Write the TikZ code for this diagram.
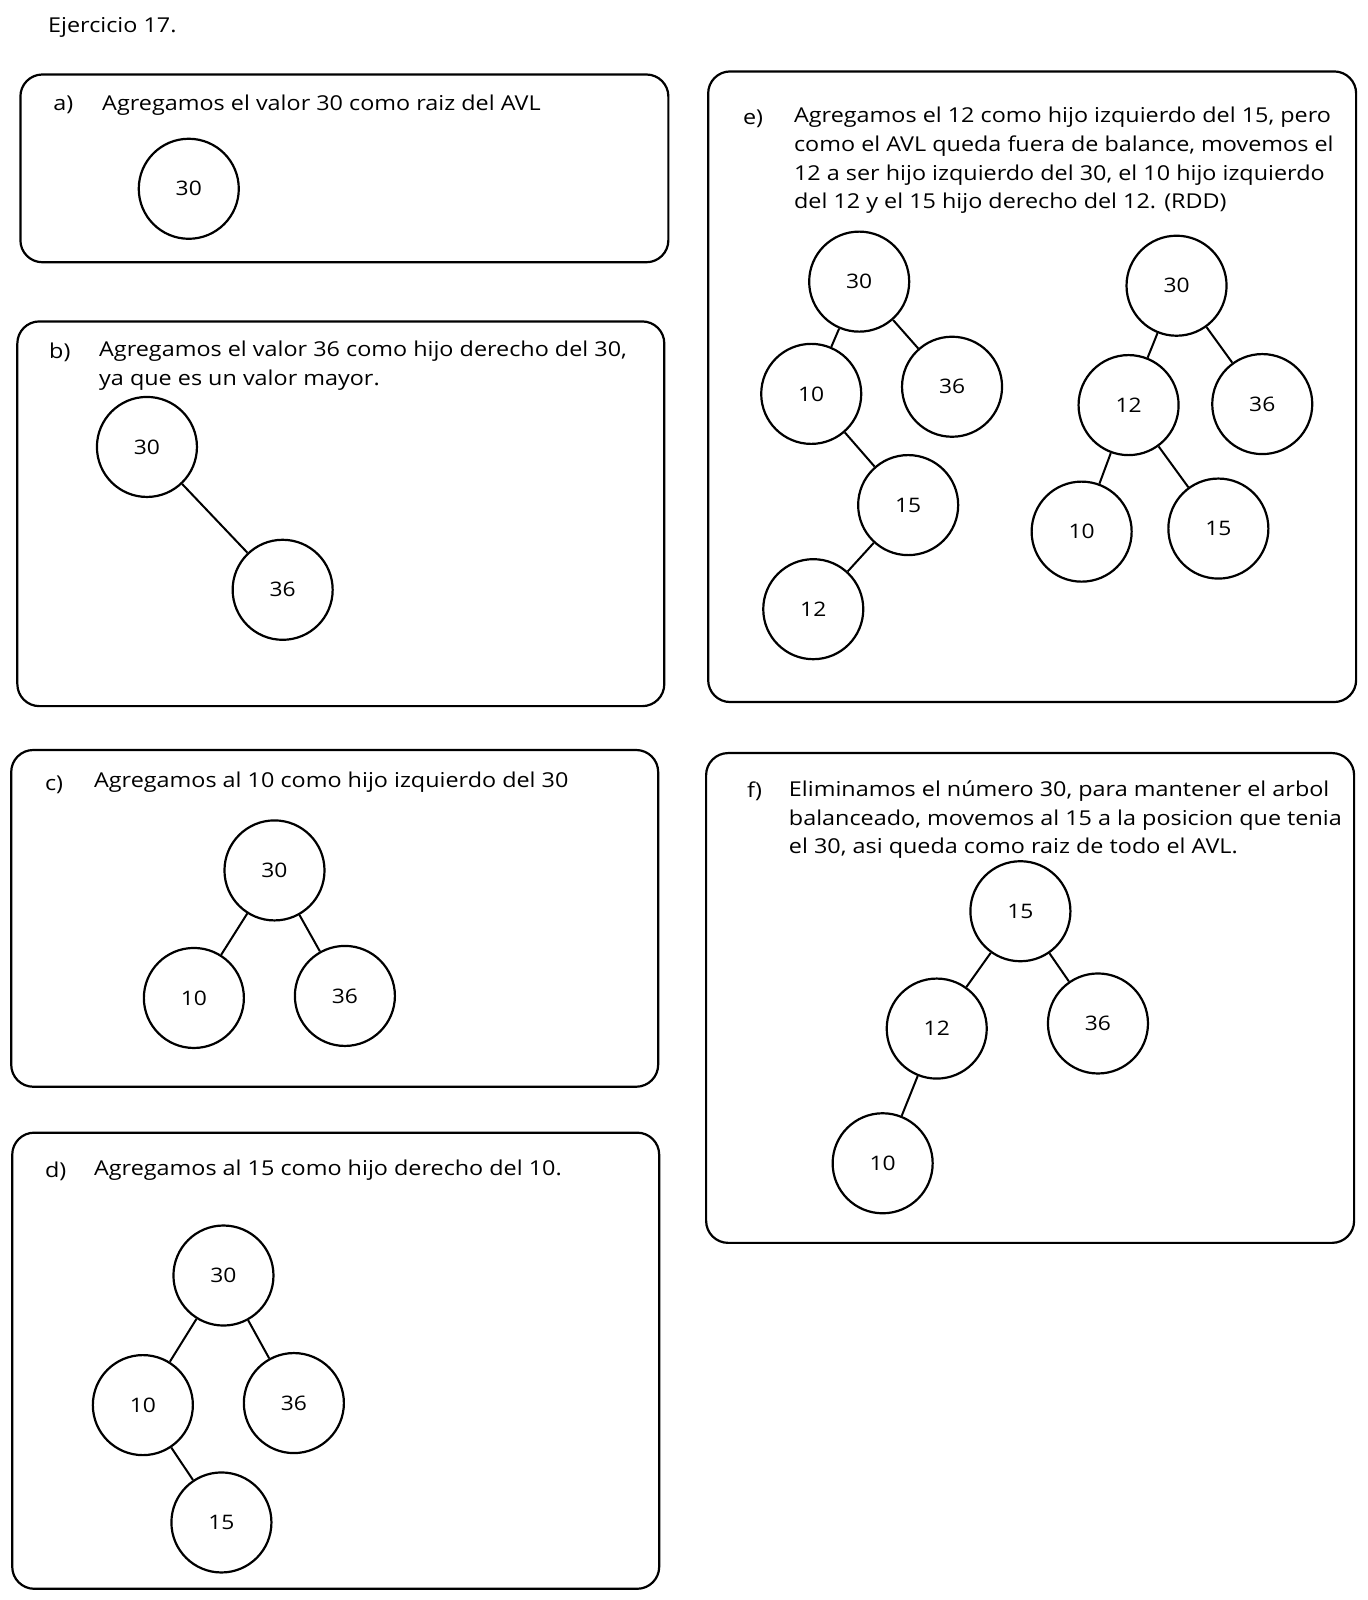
\documentclass[tikz,border=0pt]{standalone}
\usepackage{fontspec}
\setmainfont[FakeStretch=1.14]{Open Sans}
\begin{document}
\begin{tikzpicture}[x=1.0201pt,y=-1.0201pt,
  box/.style={draw=black,line width=2.2pt,rounded corners=22pt},
  nd/.style={circle,draw=black,line width=2.2pt,minimum size=100pt,inner sep=0pt,font=\fontsize{20}{24}\selectfont},
  txt/.style={anchor=west,inner sep=0pt,font=\fontsize{20.5}{28.6}\selectfont},
  ptxt/.style={anchor=north west,inner sep=0pt,align=left,font=\fontsize{20.5}{28.6}\selectfont},
  edge/.style={line width=2pt}]
\useasboundingbox (0,0) rectangle (1340,1568);
\fill[white] (0,0) rectangle (1340,1568);
\node[txt] (title) at (47,27) {Ejercicio 17.};
% a
\draw[box] (20,73) rectangle (655,257);
\node[txt] (la) at (52,103) {a)};
\node[txt] (ta) at (100,103) {Agregamos el valor 30 como raiz del AVL};
\node[nd] (a30) at (185,185) {30};
% b
\draw[box] (17,315) rectangle (651,692);
\node[txt] (lb) at (48,345) {b)};
\node[ptxt] (tb) at (97,334) {Agregamos el valor 36 como hijo derecho del 30,\\ya que es un valor mayor.};
\node[nd] (b30) at (144,438) {30};
\node[nd] (b36) at (277,578) {36};
\draw[edge] (b30) -- (b36);
% c
\draw[box] (11,735) rectangle (645,1065);
\node[txt] (lc) at (44,769) {c)};
\node[txt] (tc) at (92,767) {Agregamos al 10 como hijo izquierdo del 30};
\node[nd] (c30) at (269,853) {30};
\node[nd] (c10) at (190,978) {10};
\node[nd] (c36) at (338,976) {36};
\draw[edge] (c30) -- (c10);
\draw[edge] (c30) -- (c36);
% d
\draw[box] (12,1110) rectangle (646,1557);
\node[txt] (ld) at (44,1148) {d)};
\node[txt] (td) at (92,1147) {Agregamos al 15 como hijo derecho del 10.};
\node[nd] (d30) at (219,1250) {30};
\node[nd] (d10) at (140,1377) {10};
\node[nd] (d36) at (288,1375) {36};
\node[nd] (d15) at (217,1492) {15};
\draw[edge] (d30) -- (d10);
\draw[edge] (d30) -- (d36);
\draw[edge] (d10) -- (d15);
% e
\draw[box] (694,70) rectangle (1329,688);
\node[txt] (le) at (728,116) {e)};
\node[ptxt] (te) at (778,105) {Agregamos el 12 como hijo izquierdo del 15, pero\\como el AVL queda fuera de balance, movemos el\\12 a ser hijo izquierdo del 30, el 10 hijo izquierdo\\del 12 y el 15 hijo derecho del 12. (RDD)};
\node[nd] (e30) at (842,276) {30};
\node[nd] (e10) at (795,386) {10};
\node[nd] (e36) at (933,379) {36};
\node[nd] (e15) at (890,495) {15};
\node[nd] (e12) at (797,597) {12};
\draw[edge] (e30) -- (e10);
\draw[edge] (e30) -- (e36);
\draw[edge] (e10) -- (e15);
\draw[edge] (e15) -- (e12);
\node[nd] (r30) at (1153,280) {30};
\node[nd] (r12) at (1106,397) {12};
\node[nd] (r36) at (1237,396) {36};
\node[nd] (r10) at (1060,521) {10};
\node[nd] (r15) at (1194,518) {15};
\draw[edge] (r30) -- (r12);
\draw[edge] (r30) -- (r36);
\draw[edge] (r12) -- (r10);
\draw[edge] (r12) -- (r15);
% f
\draw[box] (692,738) rectangle (1327,1218);
\node[txt] (lf) at (732,775) {f)};
\node[ptxt] (tf) at (773,765) {Eliminamos el número 30, para mantener el arbol\\balanceado, movemos al 15 a la posicion que tenia\\el 30, asi queda como raiz de todo el AVL.};
\node[nd] (f15) at (1000,893) {15};
\node[nd] (f12) at (918,1008) {12};
\node[nd] (f36) at (1076,1003) {36};
\node[nd] (f10) at (865,1140) {10};
\draw[edge] (f15) -- (f12);
\draw[edge] (f15) -- (f36);
\draw[edge] (f12) -- (f10);
\end{tikzpicture}
\end{document}
